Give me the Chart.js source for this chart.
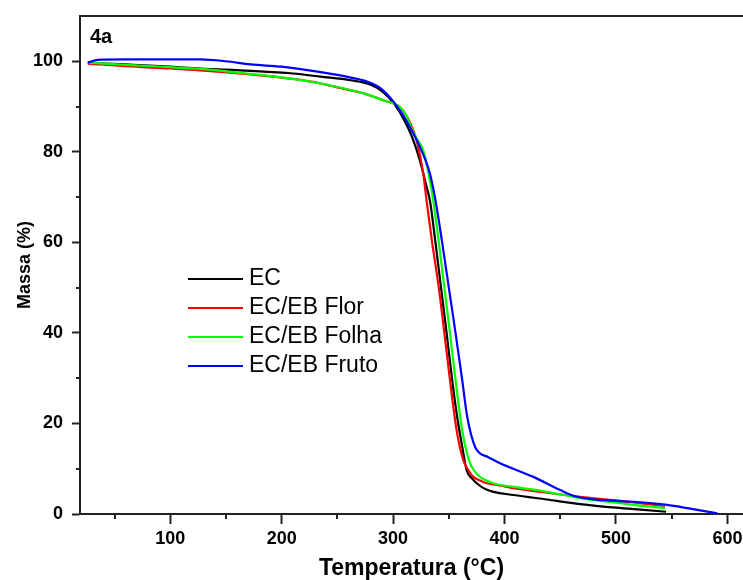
<!DOCTYPE html>
<html>
<head>
<meta charset="utf-8">
<title>TGA 4a</title>
<script src="https://cdn.jsdelivr.net/npm/chart.js@4.4.1/dist/chart.umd.min.js"></script>
<style>
  html, body { margin: 0; padding: 0; background: #fff; overflow: hidden; }
  #tgaChart { display: block; }
</style>
</head>
<body>
<canvas id="tgaChart" width="743" height="580"></canvas>
<script>
// temperature (°C) / mass (%) pairs
const tempEC = [26, 60, 100, 127, 172, 210, 235, 262, 280, 291, 301, 310, 317, 324, 330, 333, 338, 343, 348, 353, 357, 362, 366, 371, 375, 382, 390, 408, 438, 468, 500, 525, 545];
const massEC = [99.7, 99.3, 98.8, 98.4, 97.9, 97.3, 96.6, 95.8, 94.8, 93.2, 90.6, 87.0, 83.3, 78.1, 72.3, 69.3, 60, 50, 40, 29.6, 22.2, 14.9, 9.7, 7.8, 6.8, 5.6, 4.9, 4.2, 3.2, 2.2, 1.4, 0.9, 0.5];

const tempFlor = [26, 60, 100, 127, 172, 210, 235, 254, 275, 291, 306, 312, 316, 321, 327, 330, 335, 341, 346, 351, 357, 363, 368, 372, 378, 384, 396, 408, 438, 468, 500, 525, 544];
const massFlor = [99.5, 98.9, 98.4, 98.0, 97.1, 96.1, 95.1, 94.0, 92.8, 91.4, 89.9, 88.0, 86.0, 82.6, 75.2, 69.3, 60, 50, 40, 29.6, 18.5, 11.9, 9.5, 8.2, 7.4, 6.8, 6.3, 5.7, 4.7, 3.8, 3.0, 2.3, 1.8];

const tempFolha = [26, 60, 100, 127, 172, 210, 235, 254, 275, 291, 306, 312, 316, 321, 327, 332, 336, 341, 346, 351, 356, 362, 368, 373, 378, 390, 396, 408, 438, 468, 500, 516, 544];
const massFolha = [99.7, 99.2, 98.7, 98.3, 97.2, 96.1, 95.1, 94.1, 92.8, 91.4, 89.9, 88.0, 85.5, 83.0, 80.4, 75.0, 69.3, 60, 50, 40, 29.6, 18.5, 11.9, 9.5, 8.2, 6.8, 6.4, 6.0, 4.9, 3.5, 2.5, 2.0, 1.3];

const tempFruto = [26, 35, 60, 100, 127, 150, 172, 200, 235, 262, 280, 291, 306, 315, 324, 333, 338, 344, 350, 356, 362, 366, 370, 374, 378, 385, 396, 426, 450, 465, 486, 516, 546, 564, 591];
const massFruto = [99.7, 100.3, 100.4, 100.4, 100.4, 100.0, 99.3, 98.8, 97.6, 96.4, 95.2, 93.6, 89.2, 85.5, 81.1, 75.2, 69.3, 60, 50, 40, 29.6, 22.2, 17.5, 14.6, 13.4, 12.6, 11.2, 8.2, 5.3, 3.8, 3.1, 2.7, 2.0, 1.3, 0.15];

const seriesLabels = ['EC', 'EC/EB Flor', 'EC/EB Folha', 'EC/EB Fruto'];
const seriesColors = ['#000000', '#ff0000', '#00ff00', '#0000ff'];

const xMajorTicks = [100, 200, 300, 400, 500, 600];
const xMinorTicks = [50, 150, 250, 350, 450, 550];
const yMajorTicks = [0, 20, 40, 60, 80, 100];
const yMinorTicks = [10, 30, 50, 70, 90];

const panelLabel = '4a';

function toPoints(temps, masses) {
    return temps.map((t, i) => ({ x: t, y: masses[i] }));
}

const seriesData = [
    toPoints(tempEC, massEC),
    toPoints(tempFlor, massFlor),
    toPoints(tempFolha, massFolha),
    toPoints(tempFruto, massFruto)
];

Chart.defaults.font.family = '"Liberation Sans", Arial, sans-serif';
Chart.defaults.color = '#000';

const axisColor = '#222';

// top frame line, minor ticks, panel label and legend
const framePlugin = {
    id: 'framePlugin',
    afterDraw(chart) {
        const { ctx, chartArea, scales } = chart;
        ctx.save();
        ctx.strokeStyle = axisColor;
        ctx.lineWidth = 2;
        ctx.beginPath();
        ctx.moveTo(chartArea.left - 1, chartArea.top);
        ctx.lineTo(chartArea.right, chartArea.top);
        xMinorTicks.forEach(v => {
            const px = Math.round(scales.x.getPixelForValue(v));
            ctx.moveTo(px, chartArea.bottom);
            ctx.lineTo(px, chartArea.bottom + 5);
        });
        yMinorTicks.forEach(v => {
            const py = Math.round(scales.y.getPixelForValue(v));
            ctx.moveTo(chartArea.left, py);
            ctx.lineTo(chartArea.left - 4, py);
        });
        ctx.stroke();

        ctx.fillStyle = '#000';
        ctx.textBaseline = 'middle';
        ctx.textAlign = 'left';
        ctx.font = 'bold 20px "Liberation Sans", Arial, sans-serif';
        ctx.fillText(panelLabel, chartArea.left + 10, chartArea.top + 21);

        // legend
        const lx = chartArea.left + 108;
        const ly = chartArea.top + 263;
        ctx.font = '23px "Liberation Sans", Arial, sans-serif';
        chart.data.datasets.forEach((ds, i) => {
            const y = ly + i * 29;
            ctx.strokeStyle = ds.borderColor;
            ctx.lineWidth = 2;
            ctx.beginPath();
            ctx.moveTo(lx, y);
            ctx.lineTo(lx + 55, y);
            ctx.stroke();
            ctx.fillText(ds.label, lx + 61, y);
        });
        ctx.restore();
    }
};

const ctx = document.getElementById('tgaChart').getContext('2d');
const tgaChart = new Chart(ctx, {
    type: 'line',
    data: {
        datasets: seriesLabels.map((label, i) => ({
            label: label,
            data: seriesData[i],
            borderColor: seriesColors[i],
            backgroundColor: seriesColors[i],
            borderWidth: 2.2,
            pointRadius: 0,
            fill: false,
            cubicInterpolationMode: 'monotone',
            order: seriesLabels.length - i
        }))
    },
    options: {
        responsive: false,
        animation: false,
        layout: { padding: { top: 16, right: 0, bottom: 0, left: 0 } },
        plugins: {
            legend: { display: false },
            tooltip: { enabled: false }
        },
        scales: {
            x: {
                type: 'linear',
                min: 19,
                max: 614,
                afterBuildTicks: scale => {
                    scale.ticks = xMajorTicks.map(v => ({ value: v }));
                },
                afterFit: scale => {
                    scale.height = 66;
                    scale.paddingLeft = 0;
                    scale.paddingRight = 0;
                },
                ticks: {
                    font: { size: 18, weight: 'bold' },
                    padding: 4,
                    maxRotation: 0,
                    autoSkip: false
                },
                grid: {
                    drawOnChartArea: false,
                    drawTicks: true,
                    tickLength: 10,
                    tickWidth: 2,
                    tickColor: axisColor
                },
                border: { color: axisColor, width: 2 },
                title: {
                    display: true,
                    text: 'Temperatura (°C)',
                    font: { size: 23, weight: 'bold', lineHeight: 1 },
                    padding: { top: 0, bottom: 0 }
                }
            },
            y: {
                type: 'linear',
                min: 0,
                max: 110,
                afterBuildTicks: scale => {
                    scale.ticks = yMajorTicks.map(v => ({ value: v }));
                },
                afterFit: scale => {
                    scale.width = 80;
                    scale.paddingTop = 0;
                    scale.paddingBottom = 0;
                },
                ticks: {
                    font: { size: 18, weight: 'bold' },
                    padding: 9,
                    autoSkip: false
                },
                grid: {
                    drawOnChartArea: false,
                    drawTicks: true,
                    tickLength: 8,
                    tickWidth: 2,
                    tickColor: axisColor
                },
                border: { color: axisColor, width: 2 },
                title: {
                    display: true,
                    text: 'Massa (%)',
                    font: { size: 18, weight: 'bold', lineHeight: 1.2 },
                    padding: { top: 14, bottom: 0 }
                }
            }
        }
    },
    plugins: [framePlugin]
});
</script>
</body>
</html>
